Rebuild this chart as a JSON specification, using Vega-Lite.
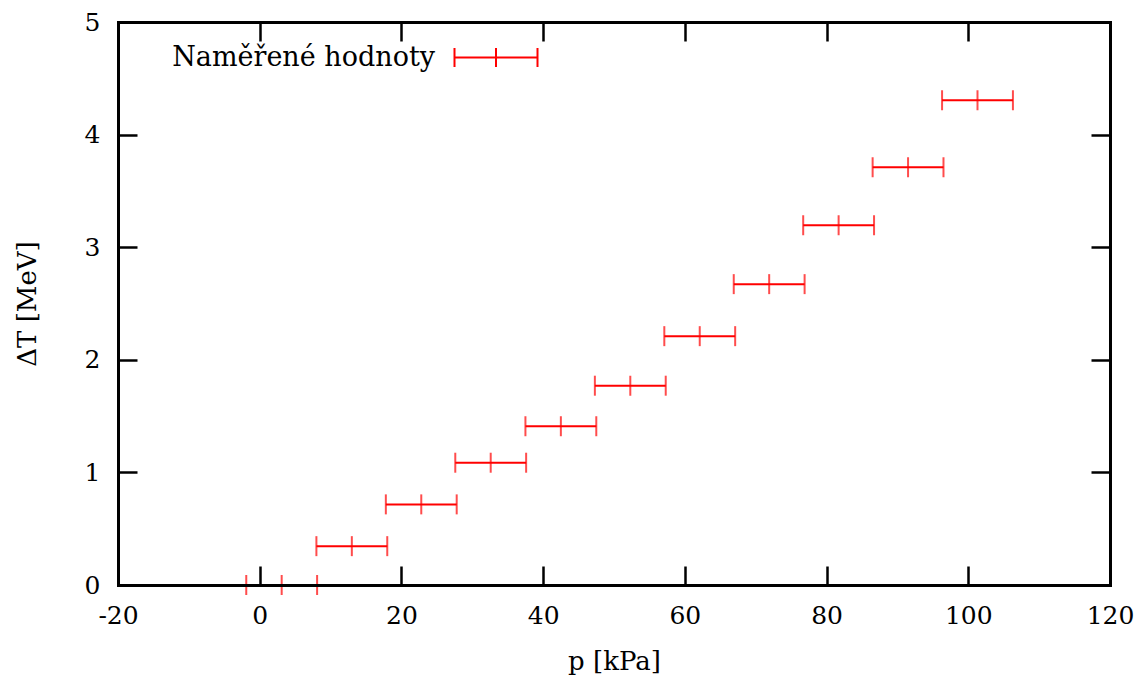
{
  "$schema": "https://vega.github.io/schema/vega-lite/v6.json",
  "width": 992,
  "height": 563,
  "autosize": "none",
  "padding": {"left": 118, "top": 22, "right": 34, "bottom": 98},
  "background": "white",
  "config": {
    "view": {"stroke": null},
    "font": "DejaVu Serif",
    "axis": {
      "grid": false,
      "domainColor": "black",
      "domainWidth": 3,
      "domainCap": "square",
      "tickColor": "black",
      "tickWidth": 2.5,
      "tickSize": -19,
      "labelFlush": false,
      "labelFont": "DejaVu Serif",
      "labelFontSize": 25,
      "labelColor": "black",
      "titleFont": "DejaVu Serif",
      "titleFontSize": 26,
      "titleFontWeight": "normal",
      "titleColor": "black"
    }
  },
  "data": {
    "values": [
      {"p": 3.1, "lo": -1.9, "hi": 8.1, "dT": 0.0},
      {"p": 13.0, "lo": 8.0, "hi": 18.0, "dT": 0.345},
      {"p": 22.8, "lo": 17.8, "hi": 27.8, "dT": 0.716},
      {"p": 32.6, "lo": 27.6, "hi": 37.6, "dT": 1.086},
      {"p": 42.5, "lo": 37.5, "hi": 47.5, "dT": 1.41},
      {"p": 52.3, "lo": 47.3, "hi": 57.3, "dT": 1.77},
      {"p": 62.1, "lo": 57.1, "hi": 67.1, "dT": 2.21},
      {"p": 71.9, "lo": 66.9, "hi": 76.9, "dT": 2.672},
      {"p": 81.7, "lo": 76.7, "hi": 86.7, "dT": 3.195},
      {"p": 91.5, "lo": 86.5, "hi": 96.5, "dT": 3.71},
      {"p": 101.3, "lo": 96.3, "hi": 106.3, "dT": 4.305}
    ]
  },
  "resolve": {"axis": {"x": "independent", "y": "independent"}},
  "layer": [
    {
      "mark": {"type": "rule", "strokeWidth": 2},
      "encoding": {
        "x": {
          "field": "lo", "type": "quantitative",
          "scale": {"domain": [-20, 120], "nice": false, "zero": false},
          "axis": {"orient": "bottom", "zindex": 2, "values": [-20, 0, 20, 40, 60, 80, 100, 120], "labelExpr": "replace(datum.label, '−', '-')", "title": "p [kPa]", "labelPadding": 37, "titlePadding": 20}
        },
        "x2": {"field": "hi"},
        "y": {
          "field": "dT", "type": "quantitative",
          "scale": {"domain": [0, 5], "nice": false, "zero": false},
          "axis": {"orient": "left", "zindex": 2, "values": [0, 1, 2, 3, 4, 5], "title": "ΔT [MeV]", "labelPadding": 37, "titlePadding": 44}
        },
        "color": {
          "datum": "Naměřené hodnoty",
          "type": "nominal",
          "scale": {"range": ["#ff0000"]},
          "legend": {
            "title": null,
            "orient": "none",
            "legendX": 335.5,
            "legendY": -7,
            "padding": 0,
            "symbolType": "M-1,0H1M-1,-0.23V0.23M1,-0.23V0.23M0,-0.23V0.23",
            "symbolSize": 6889,
            "symbolStrokeWidth": 2,
            "labelAlign": "right",
            "labelOffset": -103.5,
            "labelFont": "DejaVu Serif",
            "labelFontSize": 27,
            "labelColor": "black",
            "labelLimit": 0
          }
        }
      }
    },
    {
      "mark": {"type": "tick", "orient": "vertical", "color": "#ff0000", "size": 20, "thickness": 2},
      "encoding": {
        "x": {"field": "lo", "type": "quantitative", "axis": null},
        "y": {"field": "dT", "type": "quantitative", "axis": null}
      }
    },
    {
      "mark": {"type": "tick", "orient": "vertical", "color": "#ff0000", "size": 20, "thickness": 2},
      "encoding": {
        "x": {"field": "hi", "type": "quantitative", "axis": null},
        "y": {"field": "dT", "type": "quantitative", "axis": null}
      }
    },
    {
      "mark": {"type": "tick", "orient": "vertical", "color": "#ff0000", "size": 20, "thickness": 2},
      "encoding": {
        "x": {"field": "p", "type": "quantitative", "axis": {"orient": "top", "zindex": 2, "values": [-20, 0, 20, 40, 60, 80, 100, 120], "labels": false, "title": null}},
        "y": {"field": "dT", "type": "quantitative", "axis": {"orient": "right", "zindex": 2, "values": [0, 1, 2, 3, 4, 5], "labels": false, "title": null}}
      }
    }
  ]
}
